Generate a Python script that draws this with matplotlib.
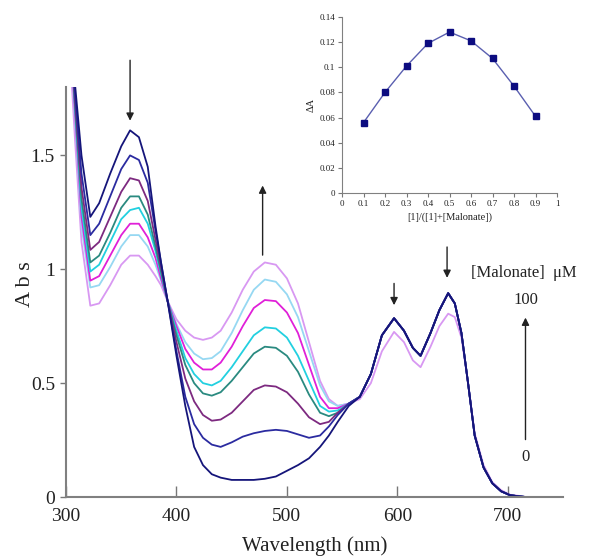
import matplotlib
matplotlib.use('Agg')
import matplotlib.pyplot as plt

# wavelength grids (nm)
wl_head = [303, 308, 314, 322, 330, 340, 350, 358, 366, 374, 381, 386, 392, 400, 408,
           416, 424, 432, 440, 450, 460, 470, 480, 490, 500, 510, 520, 530, 538, 546, 556]
wl_tail = [566, 576, 586, 597, 606, 614, 621, 630, 638, 646, 652, 658, 664, 670, 678,
           686, 694, 702, 710, 716]

# absorbance, 0 -> 100 uM malonate
abs_0 = [2.1, 1.82, 1.50, 1.23, 1.29, 1.42, 1.54, 1.61, 1.58, 1.45, 1.19, 1.03, 0.86, 0.62, 0.40,
         0.22, 0.14, 0.10, 0.085, 0.075, 0.075, 0.075, 0.08, 0.09, 0.115, 0.14, 0.17, 0.22, 0.27, 0.33, 0.40]
abs_1 = [2.1, 1.78, 1.42, 1.15, 1.20, 1.32, 1.44, 1.50, 1.48, 1.38, 1.17, 1.03, 0.86, 0.64, 0.44,
         0.32, 0.26, 0.23, 0.22, 0.24, 0.265, 0.28, 0.29, 0.295, 0.29, 0.275, 0.26, 0.27, 0.31, 0.36, 0.41]
abs_2 = [2.1, 1.75, 1.36, 1.085, 1.12, 1.23, 1.34, 1.40, 1.39, 1.30, 1.13, 1.01, 0.86, 0.68, 0.52,
         0.42, 0.36, 0.335, 0.34, 0.37, 0.42, 0.47, 0.49, 0.485, 0.46, 0.41, 0.35, 0.32, 0.33, 0.37, 0.41]
abs_3 = [2.1, 1.73, 1.31, 1.03, 1.06, 1.16, 1.27, 1.32, 1.32, 1.24, 1.10, 0.99, 0.86, 0.71, 0.58,
         0.50, 0.455, 0.445, 0.46, 0.51, 0.57, 0.63, 0.66, 0.655, 0.62, 0.55, 0.45, 0.37, 0.355, 0.37, 0.41]
abs_4 = [2.1, 1.72, 1.27, 0.99, 1.02, 1.12, 1.22, 1.26, 1.27, 1.20, 1.08, 0.98, 0.86, 0.73, 0.61,
         0.54, 0.50, 0.49, 0.51, 0.57, 0.64, 0.71, 0.745, 0.74, 0.70, 0.62, 0.51, 0.40, 0.375, 0.38, 0.41]
abs_5 = [2.1, 1.70, 1.23, 0.95, 0.97, 1.06, 1.15, 1.20, 1.20, 1.14, 1.05, 0.96, 0.86, 0.75, 0.65,
         0.59, 0.56, 0.56, 0.59, 0.66, 0.75, 0.83, 0.865, 0.86, 0.81, 0.72, 0.58, 0.44, 0.39, 0.39, 0.41]
abs_6 = [2.1, 1.68, 1.19, 0.92, 0.93, 1.01, 1.10, 1.15, 1.15, 1.10, 1.02, 0.95, 0.86, 0.76, 0.68,
         0.63, 0.605, 0.61, 0.64, 0.72, 0.82, 0.91, 0.955, 0.945, 0.89, 0.79, 0.64, 0.49, 0.42, 0.40, 0.41]
abs_7 = [2.0, 1.58, 1.12, 0.84, 0.85, 0.93, 1.02, 1.06, 1.06, 1.02, 0.97, 0.93, 0.86, 0.78, 0.73,
         0.70, 0.69, 0.70, 0.73, 0.81, 0.91, 0.99, 1.03, 1.02, 0.96, 0.85, 0.68, 0.51, 0.43, 0.40, 0.41]

tail_common = [0.44, 0.54, 0.71, 0.785, 0.73, 0.655, 0.62, 0.72, 0.82, 0.895, 0.85, 0.72, 0.50, 0.27,
               0.13, 0.06, 0.025, 0.008, 0.003, 0.0]
tail_last = [0.43, 0.50, 0.64, 0.725, 0.68, 0.60, 0.57, 0.66, 0.75, 0.805, 0.79, 0.70, 0.50, 0.28,
             0.14, 0.065, 0.03, 0.01, 0.005, 0.0]

colors = ['#15157a', '#2b2ba0', '#7d2a80', '#2a8a80', '#22d0e0', '#e020d8', '#96d8f2', '#d898f2']

# Job plot inset
job_x = [0.1, 0.2, 0.3, 0.4, 0.5, 0.6, 0.7, 0.8, 0.9]
job_y = [0.056, 0.080, 0.101, 0.119, 0.128, 0.121, 0.107, 0.085, 0.061]

serif = ['Liberation Serif', 'DejaVu Serif']
plt.rcParams['font.family'] = serif

fig = plt.figure(figsize=(5.91, 5.6), dpi=100)
ax = fig.add_axes([0.1117, 0.1125, 0.841, 0.732])

series = [abs_0, abs_1, abs_2, abs_3, abs_4, abs_5, abs_6, abs_7]
# draw highest concentration first so the navy curves end up on top
for i in range(7, -1, -1):
    tail = tail_last if i == 7 else tail_common
    ax.plot(wl_head + wl_tail, series[i] + tail, color=colors[i], lw=1.3)

ax.set_xlim(300, 750)
ax.set_ylim(0, 1.8)
ax.set_xticks([300, 400, 500, 600, 700])
ax.set_yticks([0, 0.5, 1, 1.5])
ax.set_yticklabels(['0', '0.5', '1', '1.5'])
ax.tick_params(axis='x', direction='in', length=8, width=1, colors='#777777',
               labelcolor='#222222', labelsize=14, pad=8)
ax.tick_params(axis='y', direction='out', length=4, width=1, colors='#777777',
               labelcolor='#222222', labelsize=14, pad=4)
for side in ['top', 'right']:
    ax.spines[side].set_visible(False)
for side in ['left', 'bottom']:
    ax.spines[side].set_color('#808080')
    ax.spines[side].set_linewidth(1.5)
ax.set_xlabel('Wavelength (nm)', fontsize=15, color='#222222', labelpad=8)
ax.set_ylabel('A b s', fontsize=16, color='#222222')
ax.yaxis.set_label_coords(-0.062, 0.52)

arr = dict(arrowstyle='-|>', color='#222222', lw=1.0, mutation_scale=11)
ax.annotate('', xy=(358, 1.64), xytext=(358, 1.93), arrowprops=arr, annotation_clip=False)
ax.annotate('', xy=(478, 1.38), xytext=(478, 1.05), arrowprops=arr)
ax.annotate('', xy=(597, 0.83), xytext=(597, 0.95), arrowprops=arr)
ax.annotate('', xy=(645, 0.95), xytext=(645, 1.11), arrowprops=arr)
ax.annotate('', xy=(716, 0.80), xytext=(716, 0.24), arrowprops=arr)
ax.text(667, 0.985, '[Malonate]  \u03bcM', fontsize=12, color='#222222',
        ha='left', va='center', clip_on=False)
ax.text(716, 0.865, '100', fontsize=12, color='#222222', ha='center', va='center')
ax.text(716, 0.175, '0', fontsize=12, color='#222222', ha='center', va='center')

# inset
ins = fig.add_axes([0.5787, 0.6554, 0.3638, 0.3143])
ins.plot(job_x, job_y, color='#5a5fb0', lw=1.0, marker='s', markersize=4,
         markerfacecolor='#0c0c80', markeredgecolor='#0c0c80')
ins.set_xlim(0, 1)
ins.set_ylim(0, 0.14)
ins.set_xticks([0, 0.1, 0.2, 0.3, 0.4, 0.5, 0.6, 0.7, 0.8, 0.9, 1])
ins.set_xticklabels(['0', '0.1', '0.2', '0.3', '0.4', '0.5', '0.6', '0.7', '0.8', '0.9', '1'])
ins.set_yticks([0, 0.02, 0.04, 0.06, 0.08, 0.1, 0.12, 0.14])
ins.set_yticklabels(['0', '0.02', '0.04', '0.06', '0.08', '0.1', '0.12', '0.14'])
ins.tick_params(direction='out', length=3, width=0.8, colors='#777777',
                labelcolor='#222222', labelsize=6.5, pad=2)
for side in ['top', 'right']:
    ins.spines[side].set_visible(False)
for side in ['left', 'bottom']:
    ins.spines[side].set_color('#808080')
ins.set_xlabel('[1]/([1]+[Malonate])', fontsize=7.5, color='#222222', labelpad=3)
ins.set_ylabel('\u0394A', fontsize=7.5, color='#222222', labelpad=3)
ins.patch.set_alpha(0)

fig.savefig('out.png', dpi=100)
